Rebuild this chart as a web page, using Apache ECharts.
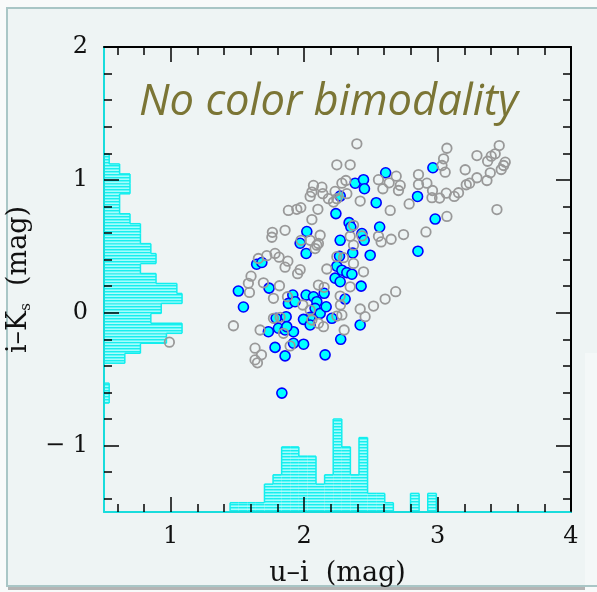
<!DOCTYPE html>
<html>
<head>
<meta charset="utf-8">
<script src="https://cdn.jsdelivr.net/npm/echarts@6/dist/echarts.min.js"></script>
<style>
html,body{margin:0;padding:0;background:#f8fafa;}
#box{width:597px;height:592px;}
</style>
</head>
<body>
<div id="box"></div>
<script>
// u-i histogram along the bottom (counts per bin)
var uiStart = 1.445, uiStep = 0.0644, uiUnit = 0.07;
var uiCounts = [1,1,1,1,3,4,7,7,6,6,3,4,10,7,4,8,2,2,1,0,0,2,0,2];
// i-Ks histogram along the left (counts per bin, bottom to top)
var ikStart = -0.68, ikStep = 0.075, ikUnit = 0.039;
var ikCounts = [1,1,0,0,4,7,12,15,9,11,15,14,10,7,10,9,7,7,5,3,3,5,5,3,1];

// [u-i, i-Ks]
var grayPts = [
  [2.395,1.271],[2.245,1.113],[2.345,1.113],[2.690,1.028],[2.557,1.001],[2.637,0.978],[2.590,0.933],[2.707,0.920],[2.313,0.995],[2.283,0.975],
  [2.070,0.958],[2.133,0.945],[2.058,0.908],[2.045,0.875],[2.140,0.896],[2.182,0.858],[2.232,0.913],[2.245,0.858],[2.220,0.833],[2.320,0.896],
  [2.420,0.840],[2.645,0.770],[1.882,0.770],[1.945,0.778],[1.975,0.791],[2.103,0.778],[2.058,0.701],[1.762,0.605],[1.758,0.568],[1.857,0.620],
  [2.370,0.658],[2.345,0.575],[2.433,0.578],[2.557,0.575],[2.577,0.533],[2.652,0.553],[2.120,0.583],[2.095,0.508],[2.045,0.545],[2.107,0.521],
  [1.782,0.446],[1.812,0.418],[1.878,0.388],[1.857,0.343],[1.720,0.429],[1.657,0.408],[1.602,0.275],[2.245,0.422],[2.295,0.414],[2.370,0.371],
  [2.370,0.508],[2.445,0.308],[2.170,0.329],[1.970,0.324],[1.951,0.294],
  [3.070,1.238],[3.045,1.158],[3.295,1.183],[3.462,1.258],[3.432,1.196],[3.402,1.178],[3.375,1.140],[3.507,1.133],[3.495,1.108],[3.477,1.078],
  [3.395,1.053],[3.370,0.995],[3.295,1.016],[3.207,1.076],[3.057,1.058],[3.033,1.108],[3.240,0.975],[3.215,0.963],[3.157,0.903],[3.125,0.875],
  [3.065,0.900],[3.015,0.863],[2.958,0.866],[2.962,0.920],[2.920,0.975],[2.857,1.040],[2.857,0.965],[2.787,0.819],[2.720,0.958],
  [3.445,0.776],[3.070,0.725],[2.913,0.608],[2.745,0.588],[2.686,0.158],[2.607,0.103],[1.977,0.545],[2.082,0.483],
  [1.582,0.221],[1.590,0.153],[1.695,0.225],[1.815,0.203],[1.770,0.108],[2.107,0.208],[2.150,0.191],[1.875,0.120],[1.990,0.058],[2.270,0.125],
  [2.345,0.195],[2.520,0.050],[2.420,0.028],[2.457,-0.030],[1.470,-0.098],[1.670,-0.130],[1.770,-0.042],[1.820,-0.035],[1.845,-0.155],[1.895,-0.250],
  [2.145,-0.105],[2.107,-0.080],[2.058,-0.055],[2.045,0.020],[2.245,-0.025],[2.283,-0.017],[2.300,-0.130],[1.632,-0.267],[1.680,-0.317],[1.632,-0.355],
  [1.650,-0.377],[0.990,-0.222],[2.272,0.058]
];
var bluePts = [
  [2.611,1.053],[2.382,0.975],[2.445,1.001],[2.452,0.933],[2.270,0.878],[2.540,0.828],[2.238,0.746],[2.337,0.678],[2.350,0.645],[2.566,0.645],
  [2.020,0.611],[2.270,0.545],[2.433,0.596],[2.450,0.545],[1.970,0.523],[2.015,0.446],[1.644,0.365],[1.683,0.378],[2.265,0.425],[2.364,0.450],
  [2.495,0.433],[2.245,0.350],[2.283,0.320],[2.320,0.302],[2.358,0.290],[2.232,0.260],[2.965,1.091],[2.850,0.875],[2.982,0.705],[2.853,0.463],
  [2.270,0.233],[2.427,0.200],[1.507,0.163],[1.545,0.043],[1.737,0.185],[1.915,0.133],[1.882,0.070],[1.932,0.083],[2.015,0.133],[2.070,0.120],
  [2.095,0.083],[2.082,0.033],[2.120,-0.005],[2.045,-0.035],[1.995,-0.050],[2.165,0.045],[2.150,0.146],[2.208,-0.042],[2.307,0.103],[2.045,-0.092],
  [2.420,-0.092],[1.790,-0.042],[1.865,-0.030],[1.732,-0.143],[1.807,-0.117],[1.857,-0.130],[1.920,-0.143],[1.996,-0.237],[1.920,-0.230],[1.782,-0.261],
  [1.857,-0.325],[2.157,-0.317],[2.274,-0.200],[1.833,-0.605],[1.870,-0.105]
];

var xMajor = [1, 2, 3, 4];
var xMinor = [0.6,0.8,1.2,1.4,1.6,1.8,2.2,2.4,2.6,2.8,3.2,3.4,3.6,3.8];
var yMajor = [-1, 0, 1, 2];
var yMinor = [-1.4,-1.2,-0.8,-0.6,-0.4,-0.2,0.2,0.4,0.6,0.8,1.2,1.4,1.6,1.8];

var serif = '"DejaVu Serif", serif';
var edge = '#12eeee';

// striped cyan fill like the original hatching
var cv = document.createElement('canvas');
cv.width = 4; cv.height = 3;
var g = cv.getContext('2d');
g.fillStyle = '#18eeee'; g.fillRect(0, 0, 4, 1);
g.fillStyle = '#62f8f8'; g.fillRect(0, 1, 4, 1);
g.fillStyle = '#a4fcfc'; g.fillRect(0, 2, 4, 1);
var hatch = {image: cv, repeat: 'repeat'};

var chart = echarts.init(document.getElementById('box'));

function renderUi(params, api) {
    var i = params.dataIndex;
    var n = api.value(2), prev = i > 0 ? uiCounts[i - 1] : 0;
    var tl = api.coord([api.value(0), -1.5 + n * uiUnit]);
    var br = api.coord([api.value(1), -1.5]);
    var pv = api.coord([api.value(0), -1.5 + prev * uiUnit]);
    var ls = {stroke: edge, lineWidth: 1.5};
    var kids = [];
    if (n > 0) {
        kids.push({type: 'rect', shape: {x: tl[0], y: tl[1], width: br[0] - tl[0], height: br[1] - tl[1]}, style: {fill: hatch}});
        kids.push({type: 'line', shape: {x1: tl[0], y1: tl[1], x2: br[0], y2: tl[1]}, style: ls});
    }
    if (prev !== n) kids.push({type: 'line', shape: {x1: tl[0], y1: pv[1], x2: tl[0], y2: tl[1]}, style: ls});
    if (i === uiCounts.length - 1) kids.push({type: 'line', shape: {x1: br[0], y1: tl[1], x2: br[0], y2: br[1]}, style: ls});
    return {type: 'group', children: kids};
}

function renderIk(params, api) {
    var i = params.dataIndex;
    var n = api.value(2), prev = i > 0 ? ikCounts[i - 1] : 0;
    var bl = api.coord([0.5, api.value(0)]);
    var tr = api.coord([0.5 + n * ikUnit, api.value(1)]);
    var pv = api.coord([0.5 + prev * ikUnit, api.value(0)]);
    var ls = {stroke: edge, lineWidth: 1.5};
    var kids = [];
    if (n > 0) {
        kids.push({type: 'rect', shape: {x: bl[0], y: tr[1], width: tr[0] - bl[0], height: bl[1] - tr[1]}, style: {fill: hatch}});
        kids.push({type: 'line', shape: {x1: tr[0], y1: tr[1], x2: tr[0], y2: bl[1]}, style: ls});
    }
    if (prev !== n) kids.push({type: 'line', shape: {x1: pv[0], y1: bl[1], x2: tr[0], y2: bl[1]}, style: ls});
    if (i === ikCounts.length - 1) kids.push({type: 'line', shape: {x1: bl[0], y1: tr[1], x2: tr[0], y2: tr[1]}, style: ls});
    return {type: 'group', children: kids};
}

function xAx(pos, ticks, len, withLabel, lineColor) {
    return {
        type: 'value', min: 0.5, max: 4, position: pos, z: 5,
        axisLine: {show: !!lineColor, onZero: false, lineStyle: {color: lineColor || '#000', width: 2}},
        axisTick: {inside: true, length: len, customValues: ticks, lineStyle: {color: '#000', width: 1.5}},
        axisLabel: withLabel ? {customValues: ticks, margin: 13, color: '#111', fontFamily: serif, fontSize: 24} : {show: false},
        splitLine: {show: false}
    };
}
function yAx(pos, ticks, len, withLabel, lineColor) {
    return {
        type: 'value', min: -1.5, max: 2, position: pos, z: 5,
        axisLine: {show: !!lineColor, onZero: false, lineStyle: {color: lineColor || '#000', width: 2}},
        axisTick: {inside: true, length: len, customValues: ticks, lineStyle: {color: '#000', width: 1.5}},
        axisLabel: withLabel ? {
            customValues: ticks, margin: 16, color: '#111', fontFamily: serif, fontSize: 24,
            formatter: function (v) { return v < 0 ? '\u2212 ' + (-v) : String(v); }
        } : {show: false},
        splitLine: {show: false}
    };
}

var xAxes = [
    xAx('bottom', xMajor, 15, true, '#19dcdc'),
    xAx('bottom', xMinor, 8, false),
    xAx('top', xMajor, 15, false, '#000'),
    xAx('top', xMinor, 8, false)
];
xAxes[0].name = 'u\u2013i  (mag)';
xAxes[0].nameLocation = 'middle';
xAxes[0].nameGap = 48;
xAxes[0].nameTextStyle = {fontFamily: serif, fontSize: 27, color: '#111'};

var yAxes = [
    yAx('left', yMajor, 15, true, '#19dcdc'),
    yAx('left', yMinor, 8, false),
    yAx('right', yMajor, 15, false, '#000'),
    yAx('right', yMinor, 8, false)
];
yAxes[0].name = '{a|i\u2013K}{s|s}{a|  (mag)}';
yAxes[0].nameLocation = 'middle';
yAxes[0].nameGap = 63;
yAxes[0].nameTextStyle = {
    color: '#111',
    rich: {
        a: {fontFamily: serif, fontSize: 27, color: '#111', lineHeight: 30},
        s: {fontFamily: serif, fontSize: 15, color: '#111', lineHeight: 14, verticalAlign: 'bottom'}
    }
};

var option = {
    animation: false,
    backgroundColor: '#f8fafa',
    grid: {left: 104, right: 26, top: 47, bottom: 80, outerBoundsMode: 'none', containLabel: false},
    xAxis: xAxes,
    yAxis: yAxes,
    graphic: [
        {type: 'rect', z: -100, shape: {x: 7, y: 8, width: 600, height: 578}, style: {fill: '#eef4f4', stroke: '#a9c6c6', lineWidth: 2}},
        {type: 'rect', z: -99, shape: {x: 585, y: 353, width: 12, height: 232}, style: {fill: '#f4f8f8'}},
        {type: 'rect', z: -99, shape: {x: 8, y: 587, width: 577, height: 3}, style: {fill: '#b4b4b4'}},
        {type: 'text', z: 100, x: 139, y: 103, style: {
            text: 'No color bimodality', font: 'italic 43.5px "Open Sans", sans-serif',
            fill: '#7b7535', verticalAlign: 'middle', textVerticalAlign: 'middle'
        }}
    ],
    series: [
        {
            type: 'custom', z: 1, silent: true,
            data: uiCounts.map(function (c, i) { return [uiStart + i * uiStep, uiStart + (i + 1) * uiStep, c]; }),
            renderItem: renderUi
        },
        {
            type: 'custom', z: 1, silent: true,
            data: ikCounts.map(function (c, i) { return [ikStart + i * ikStep, ikStart + (i + 1) * ikStep, c]; }),
            renderItem: renderIk
        },
        {
            type: 'scatter', z: 6, silent: true, data: bluePts, symbolSize: 10,
            itemStyle: {color: '#00ffff', borderColor: '#0000ff', borderWidth: 1.6, opacity: 1}
        },
        {
            type: 'scatter', z: 7, silent: true, data: grayPts, symbolSize: 9.5,
            itemStyle: {color: 'rgba(0,0,0,0)', borderColor: '#999999', borderWidth: 1.8, opacity: 1}
        }
    ]
};
chart.setOption(option);
</script>
</body>
</html>
